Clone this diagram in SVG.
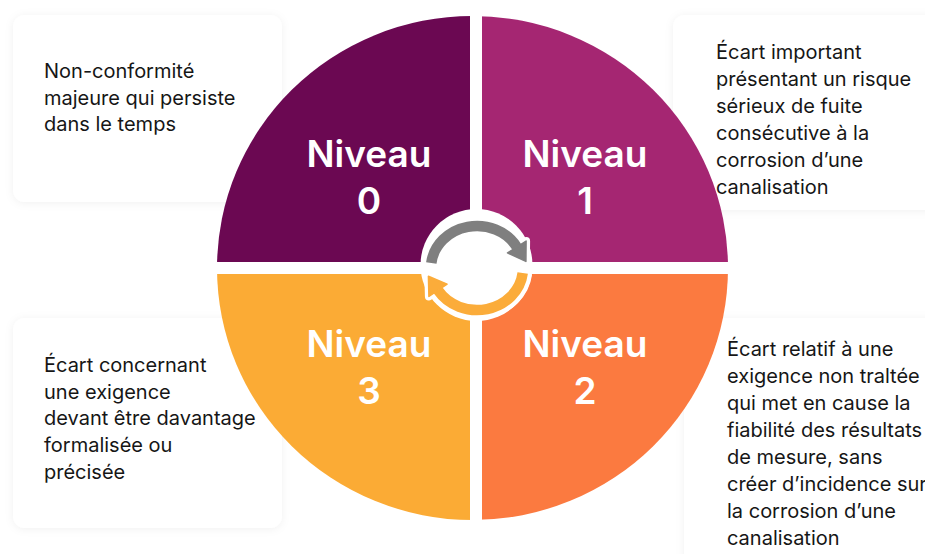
<svg xmlns="http://www.w3.org/2000/svg" width="925" height="554" viewBox="0 0 925 554">
  <defs>
    <filter id="sh" x="-10%" y="-10%" width="120%" height="120%">
      <feDropShadow dx="0" dy="1" stdDeviation="4" flood-color="#000" flood-opacity="0.06"/>
    </filter>
    <clipPath id="disc">
      <ellipse cx="472.5" cy="268" rx="255.5" ry="252"/>
    </clipPath>
    <style>
      .card { fill: #ffffff; filter: url(#sh); }
      .body { font-family: Inter, "Liberation Sans", sans-serif; font-size: 20px; fill: #161616; }
      .lbl { font-family: Inter, "Liberation Sans", sans-serif; font-size: 37px; font-weight: 600; fill: #ffffff; text-anchor: middle; }
      .halo { fill: none; stroke: #ffffff; stroke-width: 19; }
      .haloh { fill: #ffffff; stroke: #ffffff; stroke-width: 8; stroke-linejoin: round; }
    </style>
  </defs>
  <rect width="925" height="554" fill="#ffffff"/>

  <g id="card-0">
    <rect class="card" x="13" y="15" width="269" height="187" rx="12"/>
    <text class="body" x="44" y="78">Non-conformité</text>
    <text class="body" x="44" y="105">majeure qui persiste</text>
    <text class="body" x="44" y="131">dans le temps</text>
  </g>
  <g id="card-1">
    <rect class="card" x="673" y="15" width="270" height="195" rx="12"/>
    <text class="body" x="716" y="59">Écart important</text>
    <text class="body" x="716" y="86">présentant un risque</text>
    <text class="body" x="716" y="113">sérieux de fuite</text>
    <text class="body" x="716" y="140">consécutive à la</text>
    <text class="body" x="716" y="167">corrosion d’une</text>
    <text class="body" x="716" y="194">canalisation</text>
  </g>
  <g id="card-3">
    <rect class="card" x="13" y="318" width="269" height="210" rx="12"/>
    <text class="body" x="44" y="372">Écart concernant</text>
    <text class="body" x="44" y="399">une exigence</text>
    <text class="body" x="44" y="425">devant être davantage</text>
    <text class="body" x="44" y="452">formalisée ou</text>
    <text class="body" x="44" y="479">précisée</text>
  </g>
  <g id="card-2">
    <rect class="card" x="684" y="318" width="260" height="260" rx="12"/>
    <text class="body" x="727" y="356">Écart relatif à une</text>
    <text class="body" x="727" y="383">exigence non traltée</text>
    <text class="body" x="727" y="410">qui met en cause la</text>
    <text class="body" x="727" y="437">fiabilité des résultats</text>
    <text class="body" x="727" y="464">de mesure, sans</text>
    <text class="body" x="727" y="491">créer d’incidence sur</text>
    <text class="body" x="727" y="518">la corrosion d’une</text>
    <text class="body" x="727" y="545">canalisation</text>
  </g>

  <g id="niveau-0">
    <rect x="200" y="0" width="270" height="262" fill="#6B0852" clip-path="url(#disc)"/>
    <text class="lbl" x="369" y="167">Niveau</text>
    <text class="lbl" x="369" y="214">0</text>
  </g>
  <g id="niveau-1">
    <rect x="482" y="0" width="270" height="262" fill="#A52672" clip-path="url(#disc)"/>
    <text class="lbl" x="585" y="167">Niveau</text>
    <text class="lbl" x="585" y="214">1</text>
  </g>
  <g id="niveau-2">
    <rect x="482" y="274" width="270" height="270" fill="#FB7A40" clip-path="url(#disc)"/>
    <text class="lbl" x="585" y="357">Niveau</text>
    <text class="lbl" x="585" y="404">2</text>
  </g>
  <g id="niveau-3">
    <rect x="200" y="274" width="270" height="270" fill="#FBAB35" clip-path="url(#disc)"/>
    <text class="lbl" x="369" y="357">Niveau</text>
    <text class="lbl" x="369" y="404">3</text>
  </g>

  <g id="connectors">
    <circle cx="476.5" cy="265" r="56" fill="#ffffff"/>
    <!-- white outlines -->
    <path class="halo" d="M 431.3 263 A 46 42 0 0 1 516.8 247"/>
    <polygon class="haloh" points="526.1,241.1 507.5,252.9 525.9,261.4"/>
    <path class="halo" d="M 522.7 273 A 46 42 0 0 1 438 290.3"/>
    <polygon class="haloh" points="428.9,296.5 447.1,284.1 428.4,276.3"/>
    <!-- arrows -->
    <path d="M 431.3 263 A 46 42 0 0 1 516.8 247" fill="none" stroke="#7F7F7F" stroke-width="10.5"/>
    <polygon points="526.1,241.1 507.5,252.9 525.9,261.4" fill="#7F7F7F" stroke="#7F7F7F" stroke-width="1.5" stroke-linejoin="round"/>
    <path d="M 522.7 273 A 46 42 0 0 1 438 290.3" fill="none" stroke="#FBAC3A" stroke-width="10.5"/>
    <polygon points="428.9,296.5 447.1,284.1 428.4,276.3" fill="#FBAC3A" stroke="#FBAC3A" stroke-width="1.5" stroke-linejoin="round"/>
  </g>
</svg>
